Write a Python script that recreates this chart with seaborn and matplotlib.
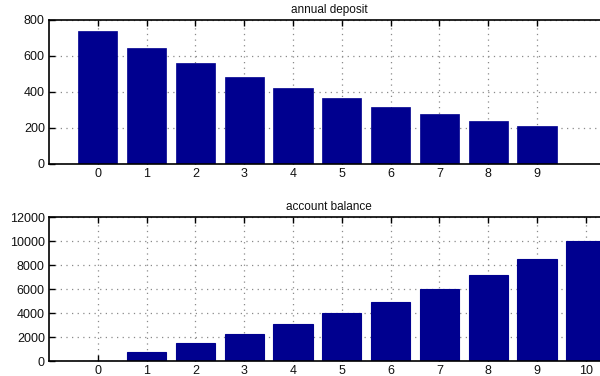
import matplotlib
matplotlib.use("Agg")
import matplotlib.pyplot as plt
import seaborn as sns
import pandas as pd

# Yearly deposits (years 0-9) and the resulting account balance (years 0-10)
deposit_years = [0, 1, 2, 3, 4, 5, 6, 7, 8, 9]
annual_deposit = [739, 644, 561, 483, 422, 367, 317, 278, 239, 211]

balance_years = [0, 1, 2, 3, 4, 5, 6, 7, 8, 9, 10]
account_balance = [0, 740, 1490, 2280, 3100, 3990, 4960, 6020, 7200, 8520, 10000]

deposit_ticks = [0, 200, 400, 600, 800]
balance_ticks = [0, 2000, 4000, 6000, 8000, 10000, 12000]

BAR_COLOR = "#00008F"

sns.set_theme(style="white")
plt.rcParams["font.family"] = ["Liberation Sans", "DejaVu Sans"]
plt.rcParams["font.size"] = 9

W, H = 600, 376
fig = plt.figure(figsize=(W / 100, H / 100), dpi=100)

unit = 48.8  # pixels per x unit
left_px = 49
ax_w = 12 * unit


def make_axes(top_px, bottom_px):
    return fig.add_axes([left_px / W, 1 - bottom_px / H,
                         ax_w / W, (bottom_px - top_px) / H])


def style_axes(ax, xticks, yticks, ylim):
    ax.set_xlim(-1, 11)
    ax.set_ylim(*ylim)
    ax.set_xticks(xticks)
    ax.set_xticklabels([str(v) for v in xticks])
    ax.set_yticks(yticks)
    ax.set_yticklabels([str(v) for v in yticks])
    ax.set_xlabel("")
    ax.set_ylabel("")
    ax.set_axisbelow(True)
    ax.grid(True, linestyle=(0, (1, 3.5)), color="#8a8a8a", linewidth=0.9)
    for side in ["top", "bottom", "left", "right"]:
        ax.spines[side].set_visible(True)
        ax.spines[side].set_color("black")
        ax.spines[side].set_linewidth(1.2)
    ax.tick_params(axis="both", which="both", direction="in", length=4,
                   width=1, colors="black", labelsize=9, pad=3,
                   top=True, bottom=True, left=True, right=True,
                   labelcolor="#111111")


ax1 = make_axes(20, 164)
df1 = pd.DataFrame({"year": deposit_years, "value": annual_deposit})
sns.barplot(data=df1, x="year", y="value", ax=ax1, color=BAR_COLOR,
            saturation=1, width=0.8, edgecolor=BAR_COLOR, linewidth=0.5)
style_axes(ax1, deposit_years, deposit_ticks, (0, 800))

ax2 = make_axes(217.3, 361.3)
df2 = pd.DataFrame({"year": balance_years, "value": account_balance})
sns.barplot(data=df2, x="year", y="value", ax=ax2, color=BAR_COLOR,
            saturation=1, width=0.8, edgecolor=BAR_COLOR, linewidth=0.8)
style_axes(ax2, balance_years, balance_ticks, (0, 12000))

fig.text(329 / W, 1 - 10 / H, "annual deposit", ha="center", va="center",
         fontsize=8.5, color="#111111")
fig.text(329 / W, 1 - 206.7 / H, "account balance", ha="center", va="center",
         fontsize=8.5, color="#111111")

fig.savefig("out.png", dpi=100)
